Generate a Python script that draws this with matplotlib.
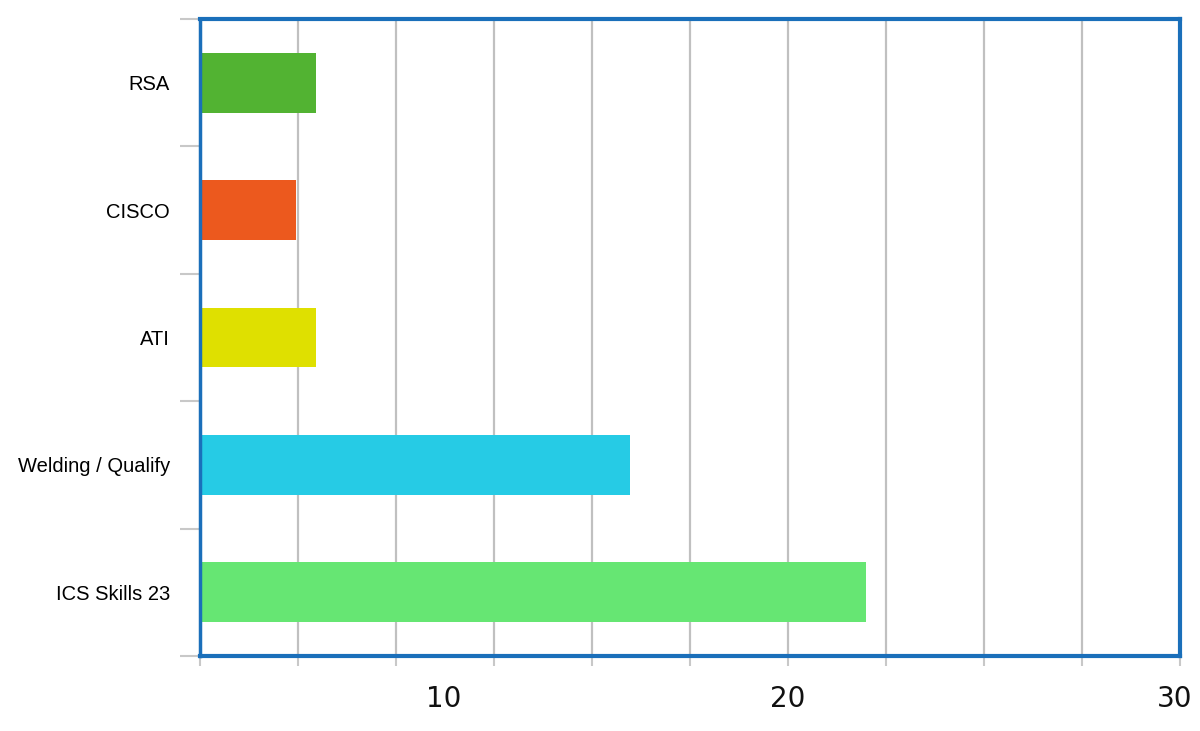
import matplotlib
matplotlib.use("Agg")
import matplotlib.pyplot as plt
import numpy as np

categories = ["RSA", "CISCO", "ATI", "Welding / Qualify", "ICS Skills 23"]
values = [3.55, 2.95, 3.55, 13.15, 20.4]
colors = ["#52b332", "#ec591e", "#dfe000", "#26cbe5", "#66e673"]
x_label_texts = ["10", "20", "30"]
x_label_pos = [7.45, 18.0, 29.85]

fig = plt.figure(figsize=(12, 7.31), dpi=100)
ax = fig.add_axes([200/1200, 1-656/731, 980/1200, 637/731])

y = np.arange(len(categories))
ax.barh(y, values, height=0.47, color=colors, zorder=3)
ax.set_xlim(0, 30)
ax.set_ylim(len(categories)-0.5, -0.5)

# gridlines
ax.set_xticks(np.arange(0, 31, 3))
ax.xaxis.grid(True, color="#c0c0c0", linewidth=1.6, zorder=1)
ax.set_xticklabels([])
ax.tick_params(axis="x", length=7.2, width=1.5, color="#c8c8c8", direction="out")

# y ticks at category boundaries
ax.set_yticks(np.arange(-0.5, len(categories)), minor=False)
ax.set_yticklabels([])
ax.tick_params(axis="y", which="major", length=14.4, width=1.5, color="#c8c8c8")
ax.set_yticks(y, minor=True)
ax.set_yticklabels(categories, minor=True, fontsize=14.5, family="Liberation Sans")
ax.tick_params(axis="y", which="minor", length=0, pad=21.6)

for s in ax.spines.values():
    s.set_color("#1a6fba")
    s.set_linewidth(3)
    s.set_zorder(5)
ax.spines["left"].set_linewidth(2.5)

for t, p in zip(x_label_texts, x_label_pos):
    ax.text(p, -0.068, t, transform=ax.get_xaxis_transform(), ha="center", va="center",
            fontsize=20, family="DejaVu Sans", color="#111111")

fig.savefig("out.png", dpi=100)
